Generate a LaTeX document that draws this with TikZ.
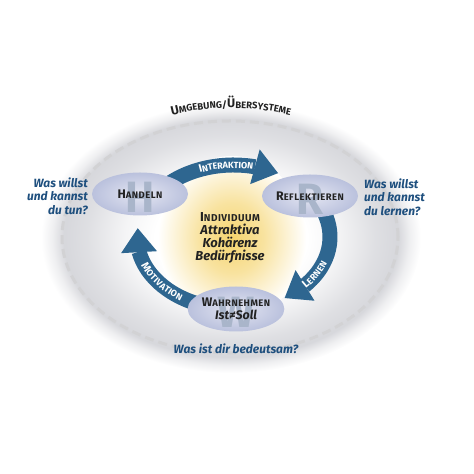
\documentclass[tikz,border=0pt]{standalone}
\usepackage{fontspec}
\setmainfont{Fira Sans}
\usepackage{xcolor}
\usepackage{tikz}
\usetikzlibrary{calc, shapes.geometric, positioning, arrows.meta, bending, decorations.text}

\definecolor{pfeilblau}{HTML}{2E6690}
\definecolor{fragblau}{HTML}{1E4F7E}
\definecolor{knotenhell}{HTML}{E4E6F2}
\definecolor{knotendunkel}{HTML}{BAC1DD}
\definecolor{wasserzeichen}{HTML}{A9B5CA}
\definecolor{umgrau}{HTML}{C9CAD0}
\definecolor{glutgelb}{HTML}{F5D46E}
\definecolor{strichgrau}{HTML}{D2D2D4}
\definecolor{schrift}{HTML}{222222}

\pgfdeclareradialshading{umfeld}{\pgfpoint{0bp}{0bp}}{color(0bp)=(white); color(10bp)=(white); color(14bp)=(umgrau!20); color(19bp)=(umgrau!60); color(22bp)=(umgrau!75); color(23.5bp)=(umgrau!30); color(25bp)=(white); color(50bp)=(white)}
\pgfdeclareradialshading{glut}{\pgfpoint{0bp}{0bp}}{color(0bp)=(glutgelb); color(11bp)=(glutgelb!65!white); color(25bp)=(white); color(50bp)=(white)}

% Kapitaelchen von Hand
\newcommand\kap[3][9.5]{{\addfontfeature{LetterSpace=5}#2{\fontsize{#1}{#1}\selectfont #3}}}

\begin{document}
\begin{tikzpicture}[x=1bp, y=1bp,
    knoten/.style={ellipse, minimum width=96bp, minimum height=43bp, inner sep=0pt,
      inner color=knotenhell, outer color=knotendunkel, text=schrift, align=center,
      font=\fontsize{12.5}{12}\bfseries},
    zeichen/.style={path picture={\node[wasser] (w#1) at ([yshift=-3bp]path picture bounding box.center) {#1};}},
    wasser/.style={text=wasserzeichen, font=\fontsize{44}{44}\bfseries, inner sep=0pt},
    pfeil/.style={draw=pfeilblau, line width=15bp,
      -{Triangle[width=36bp 0 0, length=24bp 0 0, line width=0pt]}},
    frage/.style={text=fragblau, font=\fontsize{12}{13.5}\bfseries\itshape, inner sep=0pt},
    mitte/.style={text=schrift, align=center, font=\fontsize{13}{13.3}\bfseries, inner sep=0pt},
    umriss/.style={draw=strichgrau, line width=3bp, dash pattern=on 9bp off 5bp}]
    \useasboundingbox (0,0) rectangle (474,474);

    % Hintergrund
    \shade[shading=umfeld] (231,236) ellipse [x radius=190, y radius=135];
    \shade[shading=glut] (232,236) ellipse [x radius=74, y radius=82];
    \draw[umriss] (230,237) ellipse [x radius=168, y radius=116];
    \path[decorate, decoration={text along path, text align=center,
        text={|\color{schrift}\fontsize{12.5}{12.5}\bfseries|U|\color{schrift}\fontsize{9.5}{9.5}\bfseries|MGEBUNG/|\color{schrift}\fontsize{12.5}{12.5}\bfseries|Ü|\color{schrift}\fontsize{9.5}{9.5}\bfseries|BERSYSTEME}}]
        ($(231,237)+(135:180 and 129)$) arc[start angle=135, end angle=45, x radius=180, y radius=129];

    % Kreislauf
    \coordinate (ring) at (233.5,237);
    \coordinate (i1) at ($(ring)+(150:96.5 and 72)$);
    \coordinate (l1) at ($(ring)+(35:96.5 and 72)$);
    \coordinate (m1) at ($(ring)+(-105:96.5 and 72)$);
    \draw[pfeil] (i1) arc[start angle=150, end angle=62.5, x radius=96.5, y radius=72];
    \draw[pfeil] (l1) arc[start angle=35, end angle=-58, x radius=96.5, y radius=72];
    \draw[pfeil] (m1) arc[start angle=-105, end angle=-187, x radius=96.5, y radius=72];

    % Beschriftung der Pfeile
    \path[decorate, decoration={text along path, text align=center, raise=-3.3bp,
        text={|\color{white}\fontsize{11}{11}\bfseries|I|\color{white}\fontsize{9}{9}\bfseries|NTERAKTION}}]
        ($(ring)+(135:96.5 and 72)$) arc[start angle=135, end angle=55, x radius=96.5, y radius=72];
    \path[decorate, decoration={text along path, text align=center, raise=-3.3bp,
        text={|\color{white}\fontsize{11}{11}\bfseries|L|\color{white}\fontsize{9}{9}\bfseries|ERNEN}}]
        ($(ring)+(-60:96.5 and 72)$) arc[start angle=-60, end angle=0, x radius=96.5, y radius=72];
    \path[decorate, decoration={text along path, text align=center, raise=-3.3bp,
        text={|\color{white}\fontsize{11}{11}\bfseries|M|\color{white}\fontsize{9}{9}\bfseries|OTIVATION}}]
        ($(ring)+(-175:96.5 and 72)$) arc[start angle=-175, end angle=-109, x radius=96.5, y radius=72];

    % Knoten
    \node[knoten, zeichen=H] (handeln) at (140,280) {\kap{H}{ANDELN}};
    \node[knoten, zeichen=R] (reflektieren) at (310,278) {\kap{R}{EFLEKTIEREN}};
    \node[knoten, zeichen=W, minimum height=45bp] (wahrnehmen) at (236,165)
        {\kap{W}{AHRNEHMEN}\\[1bp] \itshape Ist≠Soll};
    \node[mitte] (individuum) at (230,236)
        {\kap[10]{I}{NDIVIDUUM}\\ \itshape Attraktiva\\ \itshape Kohärenz\\ \itshape Bedürfnisse};

    % Fragen
    \node[frage, anchor=east, align=right] (frageH) at (88,278) {Was willst\\ und kannst\\ du tun?};
    \node[frage, anchor=west, align=left] (frageR) at (364,277) {Was willst\\ und kannst\\ du lernen?};
    \node[frage] (frageW) at (236,125) {Was ist dir bedeutsam?};
\end{tikzpicture}
\end{document}
